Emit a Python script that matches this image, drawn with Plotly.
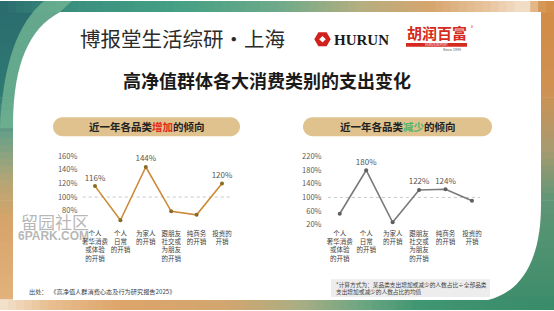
import math
import plotly.graph_objects as go

W, H = 554, 311
CJK = "Noto Sans CJK SC"

# ---------------- data ----------------
categories = ["个人<br>奢华消费<br>或体验<br>的开销", "个人<br>日常<br>的开销", "为家人<br>的开销",
              "跟朋友<br>社交或<br>为朋友<br>的开销", "纯商务<br>的开销", "投资的<br>开销"]
increase_pct = [116, 66, 144, 79, 74, 120]
decrease_pct = [52, 180, 27, 122, 124, 90]
increase_labeled = [True, False, True, False, False, True]
decrease_labeled = [False, True, False, True, True, False]
inc_ticks = [80, 100, 120, 140, 160]
dec_ticks = [20, 60, 100, 140, 180, 220]
inc_tick_text = ["80%", "100%", "120%", "140%", "160%"]
dec_tick_text = ["20%", "60%", "100%", "140%", "180%", "220%"]
baseline = 100


# ---------------- helpers (pixel -> paper) ----------------
def X(p):
    return p / W


def Y(p):
    return 1 - p / H


def hex2rgb(h):
    h = h.lstrip('#')
    return tuple(int(h[i:i + 2], 16) for i in (0, 2, 4))


def interp(stops, t):
    for (p0, c0), (p1, c1) in zip(stops, stops[1:]):
        if t <= p1:
            f = (t - p0) / (p1 - p0) if p1 > p0 else 0
            f = max(0, min(1, f))
            a, b = hex2rgb(c0), hex2rgb(c1)
            return 'rgb(%d,%d,%d)' % tuple(round(a[i] + (b[i] - a[i]) * f) for i in range(3))
    return stops[-1][1]


def band(x0, y0, x1, y1, stops, axis, n):
    out = []
    if axis == 'x':
        step = (x1 - x0) / n
        for i in range(n):
            a = x0 + i * step
            b = min(a + step + 0.7, x1)
            out.append(dict(type='rect', xref='paper', yref='paper', x0=X(a), x1=X(b),
                            y0=Y(y1), y1=Y(y0), fillcolor=interp(stops, a + step / 2),
                            line_width=0, layer='below'))
    else:
        step = (y1 - y0) / n
        for i in range(n):
            a = y0 + i * step
            b = min(a + step + 0.7, y1)
            out.append(dict(type='rect', xref='paper', yref='paper', x0=X(x0), x1=X(x1),
                            y0=Y(b), y1=Y(a), fillcolor=interp(stops, a + step / 2),
                            line_width=0, layer='below'))
    return out


def path(cmds):
    parts = []
    for c, pts in cmds:
        parts.append(c + ' ' + ' '.join('%.5f,%.5f' % (X(x), Y(y)) for x, y in pts))
    return ' '.join(parts)


def pill(x0, y0, x1, y1):
    r = (y1 - y0) / 2
    k = 0.5523 * r
    return path([
        ('M', [(x0 + r, y0)]), ('L', [(x1 - r, y0)]),
        ('C', [(x1 - r + k, y0), (x1, y0 + r - k), (x1, y0 + r)]),
        ('C', [(x1, y0 + r + k), (x1 - r + k, y1), (x1 - r, y1)]),
        ('L', [(x0 + r, y1)]),
        ('C', [(x0 + r - k, y1), (x0, y1 - r + k), (x0, y0 + r)]),
        ('C', [(x0, y0 + r - k), (x0 + r - k, y0), (x0 + r, y0)]),
        ('Z', []),
    ])


# ---------------- background frame ----------------
shapes = []
left_stops = [(0, "#2A6B6E"), (95, "#2F7A74"), (135, "#6AA088"), (180, "#B3A676"),
              (220, "#D6A46A"), (311, "#E4B47E")]
right_stops = [(0, "#D38B45"), (90, "#CF9152"), (150, "#A89B70"), (200, "#5E9676"), (311, "#3B8C69")]
top_stops = [(0, "#2A6B6E"), (70, "#3A8F7D"), (180, "#45A085"), (280, "#6FAA8A"), (360, "#B4AE80"),
             (430, "#D6A56E"), (490, "#E9C6A0"), (525, "#F3E2CF"), (540, "#D79A5A"), (554, "#D38B45")]
bottom_stops = [(0, "#F3E3D0"), (50, "#E8BE90"), (120, "#DDA56A"), (230, "#D1A670"), (300, "#A9AE84"),
                (360, "#6EA682"), (420, "#409572"), (554, "#3A8B69")]

shapes += band(0, 0, 75, H, left_stops, 'y', 45)
shapes += band(475, 0, W, H, right_stops, 'y', 45)
shapes += band(0, 0, W, 12, top_stops, 'x', 70)
shapes += band(0, 300, W, H, bottom_stops, 'x', 70)

# lighter arc in the top-left corner
shapes.append(dict(type='path', xref='paper', yref='paper', layer='below', line_width=0,
                   fillcolor='rgba(110,178,146,0.85)',
                   path=path([('M', [(44, 0)]), ('C', [(18, 22), (3, 62), (0, 128)]),
                              ('L', [(13, 128)]), ('C', [(14, 65), (28, 28), (60, 11)]),
                              ('L', [(72, 0)]), ('Z', [])])))
# white content area
shapes.append(dict(type='path', xref='paper', yref='paper', layer='below', line_width=0,
                   fillcolor='white',
                   path=path([('M', [(60, 11)]), ('L', [(541, 11)]), ('L', [(541, 205)]),
                              ('C', [(541, 255), (525, 292), (488, 301)]),
                              ('L', [(13, 301)]), ('L', [(13, 120)]),
                              ('C', [(14, 65), (28, 28), (60, 11)]), ('Z', [])])))

# pills
PILL = "#E0C28F"
shapes.append(dict(type='path', xref='paper', yref='paper', layer='below', line_width=0,
                   fillcolor=PILL, path=pill(53, 117, 240, 136)))
shapes.append(dict(type='path', xref='paper', yref='paper', layer='below', line_width=0,
                   fillcolor=PILL, path=pill(303, 117, 492, 136)))

# note box
shapes.append(dict(type='rect', xref='paper', yref='paper', layer='below', line_width=0,
                   fillcolor='#EDEDED', x0=X(331), x1=X(490), y0=Y(298), y1=Y(280)))

# HURUN icon (red hexagon with a white centre)
cx, cy, r = 322.5, 38.5, 8.2
hexpts = [(cx + r * math.cos(math.radians(a)), cy + r * math.sin(math.radians(a)))
          for a in (0, 60, 120, 180, 240, 300)]
shapes.append(dict(type='path', xref='paper', yref='paper', layer='above', line_width=0,
                   fillcolor='#D0211C',
                   path=path([('M', [hexpts[0]])] + [('L', [p]) for p in hexpts[1:]] + [('Z', [])])))
s = 3.3
shapes.append(dict(type='path', xref='paper', yref='paper', layer='above', line_width=0,
                   fillcolor='white',
                   path=path([('M', [(cx, cy - s)]), ('L', [(cx + s, cy)]), ('L', [(cx, cy + s)]),
                              ('L', [(cx - s, cy)]), ('Z', [])])))
# 胡润百富 red bar
shapes.append(dict(type='rect', xref='paper', yref='paper', layer='above', line_width=0,
                   fillcolor='#D42A20', x0=X(406), x1=X(467), y0=Y(46), y1=Y(42.3)))

# baselines at 100%
shapes.append(dict(type='line', xref='x', yref='y', x0=-0.72, x1=5.42, y0=baseline, y1=baseline,
                   line=dict(color='#C8C8C8', width=1, dash='dot'), layer='below'))
shapes.append(dict(type='line', xref='x2', yref='y2', x0=-0.9, x1=5.3, y0=baseline, y1=baseline,
                   line=dict(color='#C8C8C8', width=1, dash='dot'), layer='below'))

# ---------------- traces ----------------
inc_text = ["%d%%" % v if s_ else "" for v, s_ in zip(increase_pct, increase_labeled)]
dec_text = ["%d%%" % v if s_ else "" for v, s_ in zip(decrease_pct, decrease_labeled)]

fig = go.Figure()
fig.add_trace(go.Scatter(x=categories, y=increase_pct, mode='lines+markers+text',
                         text=inc_text, textposition='top center',
                         textfont=dict(family=CJK, size=8, color='#555555'),
                         line=dict(color='#CD8A3A', width=1.6),
                         marker=dict(size=4, color='#8A6A22'),
                         xaxis='x', yaxis='y', cliponaxis=False, showlegend=False, hoverinfo='skip'))
fig.add_trace(go.Scatter(x=categories, y=decrease_pct, mode='lines+markers+text',
                         text=dec_text, textposition='top center',
                         textfont=dict(family=CJK, size=8, color='#555555'),
                         line=dict(color='#7A7A7A', width=1.6),
                         marker=dict(size=4, color='#5E5E5E'),
                         xaxis='x2', yaxis='y2', cliponaxis=False, showlegend=False, hoverinfo='skip'))

axis_common = dict(showgrid=False, zeroline=False, showline=False, ticks='', fixedrange=True)
xfont = dict(family=CJK, size=6.5, color='#404040')
yfont = dict(family=CJK, size=7.5, color='#595959')

fig.update_layout(
    width=W, height=H, autosize=False,
    margin=dict(l=0, r=0, t=0, b=0),
    paper_bgcolor='white', plot_bgcolor='rgba(0,0,0,0)',
    font=dict(family=CJK),
    xaxis=dict(domain=[X(82.3), X(234.7)], anchor='y', tickfont=xfont, ticklabelstandoff=0,
               tickangle=0, range=[-0.5, 5.5], **axis_common),
    yaxis=dict(domain=[Y(228.5), Y(149.2)], anchor='x', range=[54.6, 170], tickmode='array',
               tickvals=inc_ticks, ticktext=inc_tick_text, tickfont=yfont, ticklabelstandoff=4,
               **axis_common),
    xaxis2=dict(domain=[X(326.5), X(485.2)], anchor='y2', tickfont=xfont, ticklabelstandoff=0,
                tickangle=0, range=[-0.5, 5.5], **axis_common),
    yaxis2=dict(domain=[Y(228.5), Y(151.5)], anchor='x2', range=[10, 235], tickmode='array',
                tickvals=dec_ticks, ticktext=dec_tick_text, tickfont=yfont, ticklabelstandoff=4,
                **axis_common),
    shapes=shapes,
)

ann = []


def A(text, x, y, size, color='#222222', xanchor='center', family=CJK, **kw):
    ann.append(dict(text=text, x=X(x), y=Y(y), xref='paper', yref='paper', showarrow=False,
                    xanchor=xanchor, yanchor='middle', font=dict(family=family, size=size, color=color),
                    **kw))


A("博报堂生活综研·上海", 78, 37.5, 20.5, '#2B2B2B', 'left')
A("<b>HURUN</b>", 332, 38.8, 15, '#1A1A1A', 'left', family='Liberation Serif')
A("<b>胡润百富</b>", 405, 31.5, 15, '#D42A20', 'left')
A("®", 469, 26.5, 4, '#D42A20', 'left')
A("HURUN REPORT", 436.5, 44.2, 3.0, '#FFFFFF')
A("Since 1999", 463, 49.3, 3.6, '#555555', 'right', family='Liberation Sans')
A("<b>高净值群体各大消费类别的支出变化</b>", 267, 80, 18, '#1A1A1A')
A("<b>近一年各品类<span style='color:#E5281C'>增加</span>的倾向</b>", 146.5, 126.5, 10.5, '#222222')
A("<b>近一年各品类<span style='color:#4DB36A'>减少</span>的倾向</b>", 397.5, 126.5, 10.5, '#222222')
A("出处：  《高净值人群消费心态及行为研究报告2025》", 27, 292, 6.2, '#404040', 'left')
A("*计算方式为：某品类支出增加或减少的人数占比÷全部品类<br>支出增加或减少的人数占比的均值", 334, 289, 5.7,
  '#404040', 'left', align='left')
A("留园社区", 55, 222, 17, 'rgba(120,120,120,0.55)')
A("<b>6PARK.COM</b>", 53, 237, 12, 'rgba(120,120,120,0.55)', family='Liberation Sans')

fig.update_layout(annotations=ann)
fig.write_html("out.html")
